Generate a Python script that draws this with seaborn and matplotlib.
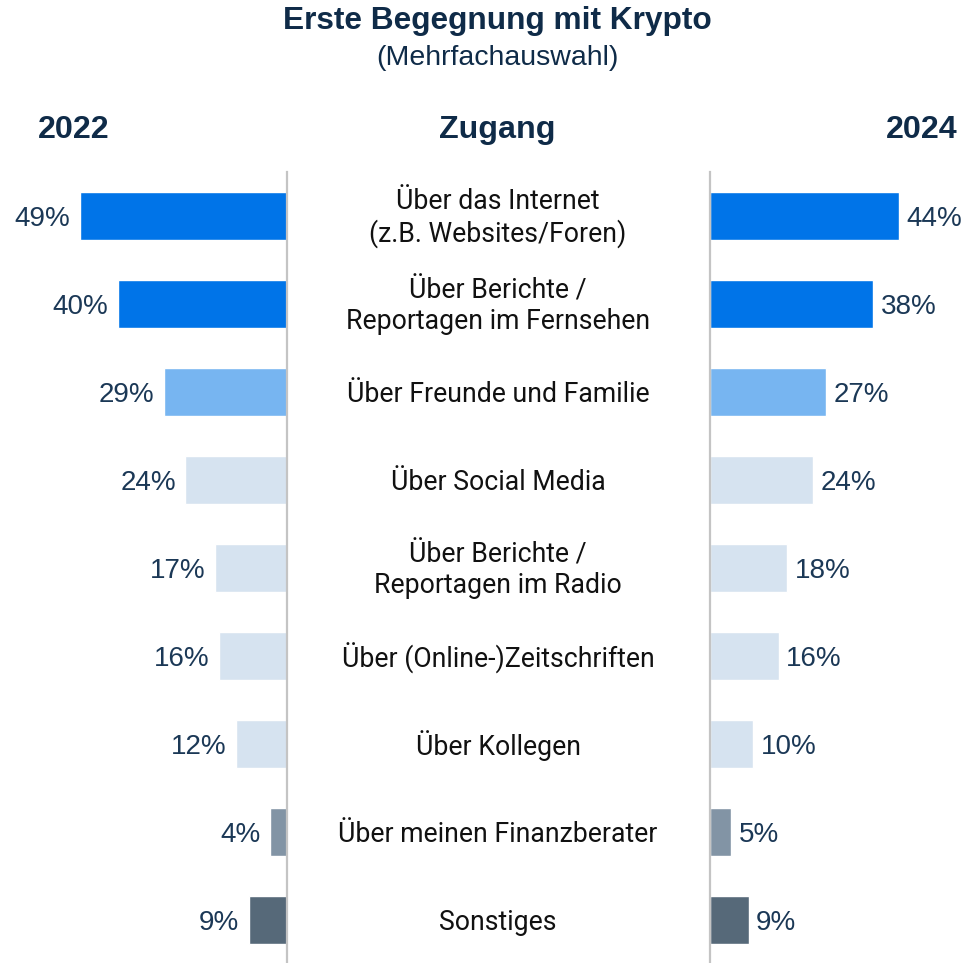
import matplotlib
matplotlib.use("Agg")
import matplotlib.pyplot as plt
import seaborn as sns
import pandas as pd

# Daten
kategorien = [
    "Über das Internet\n(z.B. Websites/Foren)",
    "Über Berichte /\nReportagen im Fernsehen",
    "Über Freunde und Familie",
    "Über Social Media",
    "Über Berichte /\nReportagen im Radio",
    "Über (Online-)Zeitschriften",
    "Über Kollegen",
    "Über meinen Finanzberater",
    "Sonstiges",
]
werte_2022 = [49, 40, 29, 24, 17, 16, 12, 4, 9]
werte_2024 = [44, 38, 27, 24, 18, 16, 10, 5, 9]
farben = ["#0074E8", "#0074E8", "#77B5F1", "#D6E3F0", "#D6E3F0",
          "#D6E3F0", "#D6E3F0", "#8294A5", "#566979"]

W, H = 974, 963
navy = "#0F2B48"
label_col = "#1B3856"
linie = "#C4C4C4"

sns.set_theme(style="white")
plt.rcParams["font.family"] = ["Liberation Sans", "DejaVu Sans"]

fig = plt.figure(figsize=(W / 100, H / 100), dpi=100)


def px_box(x0, x1, y0, y1):
    """Pixel-Koordinaten (oben links) -> Figure-Koordinaten"""
    return [x0 / W, 1 - y1 / H, (x1 - x0) / W, (y1 - y0) / H]


ax_l = fig.add_axes(px_box(0, 287, 172, 964))
ax_r = fig.add_axes(px_box(710, 974, 172, 964))

df_l = pd.DataFrame({"kat": kategorien, "wert": werte_2022})
df_r = pd.DataFrame({"kat": kategorien, "wert": werte_2024})
pal = dict(zip(kategorien, farben))

sns.barplot(data=df_l, x="wert", y="kat", hue="kat", palette=pal,
            legend=False, width=0.55, ax=ax_l, saturation=1)
sns.barplot(data=df_r, x="wert", y="kat", hue="kat", palette=pal,
            legend=False, width=0.55, ax=ax_r, saturation=1)

ax_l.set_xlim(287 / 4.23, 0)
ax_r.set_xlim(0, 264 / 4.29)
for ax in (ax_l, ax_r):
    ax.set_ylim(8.5, -0.5)
    ax.set_xlabel("")
    ax.set_ylabel("")
    ax.set_xticks([])
    ax.set_yticks([])
    for s in ax.spines.values():
        s.set_visible(False)
    ax.patch.set_alpha(0)

ax_l.spines["right"].set_visible(True)
ax_l.spines["right"].set_color(linie)
ax_l.spines["right"].set_linewidth(1.6)
ax_r.spines["left"].set_visible(True)
ax_r.spines["left"].set_color(linie)
ax_r.spines["left"].set_linewidth(1.6)

# Prozentwerte
for i, v in enumerate(werte_2022):
    ax_l.annotate(f"{v}%", (v, i), xytext=(-7, 0), textcoords="offset points",
                  ha="right", va="center_baseline", fontsize=20, color=label_col)
for i, v in enumerate(werte_2024):
    ax_r.annotate(f"{v}%", (v, i), xytext=(5.5, 0), textcoords="offset points",
                  ha="left", va="center_baseline", fontsize=20, color=label_col)

# Kategorien in der Mitte
for i, k in enumerate(kategorien):
    y = 218 + 88 * i
    fig.text(498 / W, 1 - y / H, k, ha="center", va="center",
             fontsize=19.2, family=["Roboto", "DejaVu Sans"], color="#111111",
             linespacing=1.18)

# Titel
fig.text(497 / W, 1 - 21 / H, "Erste Begegnung mit Krypto", ha="center",
         va="center", fontsize=22.8, fontweight="bold", color=navy)
fig.text(497 / W, 1 - 58 / H, "(Mehrfachauswahl)", ha="center",
         va="center", fontsize=20.5, color=navy)
fig.text(74 / W, 1 - 130 / H, "2022", ha="center", va="center",
         fontsize=23.2, fontweight="bold", color=navy)
fig.text(497 / W, 1 - 130 / H, "Zugang", ha="center", va="center",
         fontsize=23.2, fontweight="bold", color=navy)
fig.text(922 / W, 1 - 130 / H, "2024", ha="center", va="center",
         fontsize=23.2, fontweight="bold", color=navy)

fig.savefig("out.png", dpi=100, facecolor="white")
